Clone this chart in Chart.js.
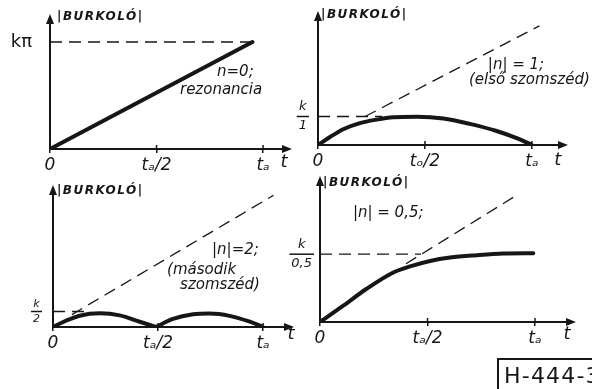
<!DOCTYPE html>
<html>
<head>
<meta charset="utf-8">
<script src="https://cdn.jsdelivr.net/npm/chart.js@4.4.0/dist/chart.umd.min.js"></script>
<style>
  html, body { margin: 0; padding: 0; background: #fff; }
  #page { position: relative; width: 592px; height: 389px; overflow: hidden; background: #fff; }
  canvas { position: absolute; left: 0; top: 0; }
  #stamp {
    position: absolute; left: 497px; top: 358px; width: 120px; height: 40px;
    border-left: 2px solid #161616; border-top: 2px solid #161616;
    font: 22px "DejaVu Sans"; letter-spacing: 1.2px; color: #161616;
    padding: 3px 0 0 5px; white-space: nowrap;
  }
</style>
</head>
<body>
<div id="page">
  <canvas id="c1" width="592" height="389"></canvas>
  <canvas id="c2" width="592" height="389"></canvas>
  <canvas id="c3" width="592" height="389"></canvas>
  <canvas id="c4" width="592" height="389"></canvas>
  <div id="stamp">H-444-3</div>
</div>
<script>
console.log("drawing envelopes");
const ink = '#161616';
const family = '"DejaVu Sans", sans-serif';

// t axis ticks (in units of t_a)
const tickT = [0, 0.5, 1];
const tLabels = ['0', 'tₐ/2', 'tₐ'];
const tLabelsN1 = ['0', 'tₒ/2', 'tₐ'];

// n = 0, rezonancia
const resT = [0, 0.95];
const resY = [0, 1];

// |n| = 1
const n1T = [0, 0.056, 0.118, 0.196, 0.274, 0.352, 0.461, 0.586, 0.71, 0.835, 0.929, 1];
const n1Y = [0, 0.28, 0.555, 0.77, 0.89, 0.97, 0.99, 0.93, 0.74, 0.49, 0.24, 0];
const n1DiagT = [0.22, 1.035];
const n1DiagY = [1.0, 4.18];
const n1LevelT = [0, 0.3];

// |n| = 2 (two humps)
const n2T1 = [0, 0.064, 0.127, 0.222, 0.318, 0.413, 0.49];
const n2Y1 = [0, 0.42, 0.73, 0.88, 0.75, 0.34, 0];
const n2T2 = [0.49, 0.571, 0.667, 0.746, 0.841, 0.937, 1];
const n2Y2 = [0, 0.52, 0.82, 0.87, 0.72, 0.34, 0];
const n2DiagT = [0.09, 1.05];
const n2DiagY = [0.8, 8.5];
const n2LevelT = [0, 0.16];

// |n| = 0,5
const n05T = [0, 0.108, 0.217, 0.341, 0.419, 0.512, 0.605, 0.729, 0.853, 0.992];
const n05Y = [0, 0.24, 0.49, 0.73, 0.82, 0.90, 0.95, 0.985, 1.01, 1.015];
const n05DiagT = [0.40, 0.92];
const n05DiagY = [0.86, 1.88];
const n05LevelT = [0, 0.47];

function zip(xs, ys) {
    return xs.map((v, i) => ({x: v, y: ys[i]}));
}
function level(xs) {
    return xs.map(v => ({x: v, y: 1}));
}

function thick(points) {
    return {data: points, borderColor: ink, borderWidth: 4, cubicInterpolationMode: 'monotone',
            borderCapStyle: 'round', borderJoinStyle: 'round', order: 0};
}
function dashed(points) {
    return {data: points, borderColor: ink, borderWidth: 1.3, borderDash: [12, 7], order: 1};
}

const tickFont = {family: family, size: 17, style: 'italic'};
const titleFont = 'italic bold 12px ' + family;
const noteFont = 'italic 15px ' + family;
const axisFont = 'italic 18px ' + family;

const sketch = {
    id: 'sketch',
    afterDraw(chart, args, opts) {
        const {ctx, chartArea: a, scales: {x, y}} = chart;
        ctx.save();
        ctx.fillStyle = ink;
        ctx.strokeStyle = ink;
        // arrow heads
        ctx.beginPath();
        ctx.moveTo(a.left, a.top - 7);
        ctx.lineTo(a.left - 4, a.top + 3);
        ctx.lineTo(a.left + 4, a.top + 3);
        ctx.closePath();
        ctx.fill();
        ctx.beginPath();
        ctx.moveTo(a.right + 7, a.bottom);
        ctx.lineTo(a.right - 3, a.bottom - 4);
        ctx.lineTo(a.right - 3, a.bottom + 4);
        ctx.closePath();
        ctx.fill();
        // tick marks also cross above the t axis
        ctx.lineWidth = 1.5;
        for (const t of x.ticks) {
            if (t.value === 0) continue;
            const px = x.getPixelForValue(t.value);
            ctx.beginPath();
            ctx.moveTo(px, a.bottom - 4);
            ctx.lineTo(px, a.bottom);
            ctx.stroke();
        }
        // fraction bar under the y label
        if (opts.frac) {
            const f = y.options.ticks.font;
            ctx.font = f.style + ' ' + f.size + 'px ' + family;
            const w = Math.max(...opts.frac.map(s => ctx.measureText(s).width));
            const cx = y.right - y.options.ticks.padding - w / 2;
            const cy = y.getPixelForValue(1);
            ctx.beginPath();
            ctx.moveTo(cx - w / 2 - 2, cy);
            ctx.lineTo(cx + w / 2 + 2, cy);
            ctx.stroke();
        }
        ctx.textBaseline = 'middle';
        for (const t of opts.texts) {
            ctx.font = t.font || noteFont;
            ctx.letterSpacing = t.spacing || '0px';
            ctx.textAlign = t.align || 'left';
            ctx.fillText(t.text, x.getPixelForValue(t.x), y.getPixelForValue(t.y));
        }
        ctx.restore();
    }
};

function panel(id, cfg) {
    return new Chart(document.getElementById(id), {
        type: 'line',
        data: {datasets: cfg.datasets},
        options: {
            responsive: false,
            animation: false,
            events: [],
            layout: {padding: cfg.pad, autoPadding: false},
            elements: {point: {radius: 0}},
            plugins: {
                legend: {display: false},
                tooltip: {enabled: false},
                sketch: {texts: cfg.texts, frac: cfg.frac}
            },
            scales: {
                x: {
                    type: 'linear', min: 0, max: cfg.xmax,
                    afterBuildTicks: s => { s.ticks = tickT.map(v => ({value: v})); },
                    afterFit: s => { s.height = 40; s.paddingLeft = 0; s.paddingRight = 0; },
                    ticks: {autoSkip: false, maxRotation: 0, padding: 2, color: ink, font: tickFont,
                            callback: (v, i) => cfg.xLabels[i]},
                    grid: {drawOnChartArea: false, drawTicks: true, tickLength: 4, color: ink, lineWidth: 1.5},
                    border: {color: ink, width: 2}
                },
                y: {
                    type: 'linear', min: 0, max: cfg.ymax,
                    afterBuildTicks: s => { s.ticks = [{value: 1}]; },
                    afterFit: s => { s.width = 40; s.paddingTop = 0; s.paddingBottom = 0; },
                    ticks: {autoSkip: false, crossAlign: 'center', padding: cfg.yPad, color: ink,
                            font: cfg.yFont, callback: () => cfg.yLabel},
                    grid: {display: false, drawTicks: false},
                    border: {color: ink, width: 2}
                }
            }
        },
        plugins: [sketch]
    });
}

const fracFont = {family: family, size: 13, style: 'italic', lineHeight: 1.45};

// n = 0
panel('c1', {
    pad: {left: 10, top: 21, right: 307, bottom: 200},
    xmax: 1.103, ymax: 1.196,
    xLabels: tLabels,
    yLabel: 'kπ', yPad: 18, yFont: {family: family, size: 18, style: 'normal'},
    datasets: [thick(zip(resT, resY)), dashed(level([0, resT[1]]))],
    texts: [
        {text: '|BURKOLÓ|', x: 0.033, y: 1.234, font: titleFont, spacing: '1.5px'},
        {text: 'n=0;', x: 0.784, y: 0.72},
        {text: 'rezonancia', x: 0.61, y: 0.551},
        {text: 't', x: 1.099, y: -0.12, align: 'center', font: axisFont}
    ]
});

// |n| = 1
panel('c2', {
    pad: {left: 278, top: 18, right: 31, bottom: 204},
    xmax: 1.136, ymax: 4.456,
    xLabels: tLabelsN1,
    yLabel: ['k', '1'], frac: ['k', '1'], yPad: 11, yFont: fracFont,
    datasets: [thick(zip(n1T, n1Y)), dashed(zip(n1DiagT, n1DiagY)), dashed(level(n1LevelT))],
    texts: [
        {text: '|BURKOLÓ|', x: 0.014, y: 4.56, font: titleFont, spacing: '1.5px'},
        {text: '|n| = 1;', x: 0.794, y: 2.81},
        {text: '(első szomszéd)', x: 0.706, y: 2.28},
        {text: 't', x: 1.121, y: -0.53, align: 'center', font: axisFont}
    ]
});

// |n| = 2
panel('c3', {
    pad: {left: 13, top: 192, right: 305, bottom: 22},
    xmax: 1.114, ymax: 8.71,
    xLabels: tLabels,
    yLabel: ['k', '2'], frac: ['k', '2'], yPad: 13, yFont: {family: family, size: 11, style: 'italic', lineHeight: 1.3},
    datasets: [thick(zip(n2T1, n2Y1)), thick(zip(n2T2, n2Y2)), dashed(zip(n2DiagT, n2DiagY)), dashed(level(n2LevelT))],
    texts: [
        {text: '|BURKOLÓ|', x: 0.019, y: 8.77, font: titleFont, spacing: '1.5px'},
        {text: '|n|=2;', x: 0.757, y: 4.97},
        {text: '(második', x: 0.543, y: 3.68},
        {text: 'szomszéd)', x: 0.605, y: 2.71},
        {text: 't', x: 1.133, y: -0.45, align: 'center', font: axisFont}
    ]
});

// |n| = 0,5
panel('c4', {
    pad: {left: 280, top: 183, right: 23, bottom: 27},
    xmax: 1.158, ymax: 2.05,
    xLabels: tLabels,
    yLabel: ['k', '0,5'], frac: ['k', '0,5'], yPad: 8, yFont: fracFont,
    datasets: [thick(zip(n05T, n05Y)), dashed(zip(n05DiagT, n05DiagY)), dashed(level(n05LevelT))],
    texts: [
        {text: '|BURKOLÓ|', x: 0.014, y: 2.05, font: titleFont, spacing: '1.5px'},
        {text: '|n| = 0,5;', x: 0.153, y: 1.61},
        {text: 't', x: 1.149, y: -0.18, align: 'center', font: axisFont}
    ]
});
</script>
</body>
</html>
